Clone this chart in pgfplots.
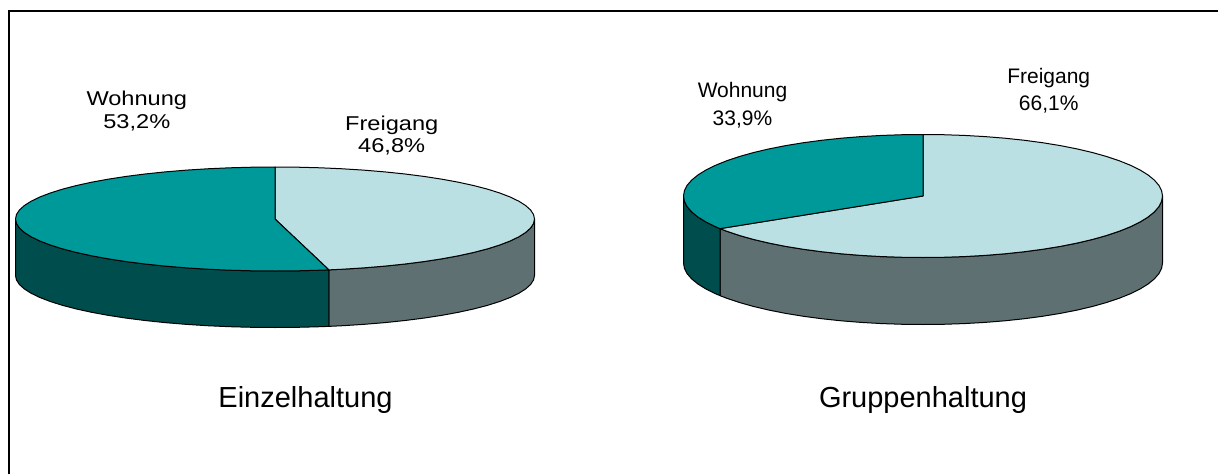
\documentclass[border=0pt]{standalone}
\usepackage{fontspec}
\setmainfont{Liberation Sans}
\usepackage{graphicx}
\usepackage{pgfplots}
\pgfplotsset{compat=1.18}
\definecolor{teal1}{HTML}{009999}
\definecolor{light1}{HTML}{BBE0E3}
\definecolor{tealside}{HTML}{004D4D}
\definecolor{greyside}{HTML}{5E7072}
\pgfkeys{
  /pgfplots/table/leftpie/.style={/pgfplots/table/x expr=275+259.5*\thisrow{s}, /pgfplots/table/y expr=219-52*\thisrow{c}+56.5*\thisrow{d}, /pgfplots/table/row sep=\\},
  /pgfplots/table/rightpie/.style={/pgfplots/table/x expr=923+239.5*\thisrow{s}, /pgfplots/table/y expr=196-61.5*\thisrow{c}+67*\thisrow{d}, /pgfplots/table/row sep=\\},
}
\pgfplotsset{
  seg/.style={draw=black, line width=1pt, line join=round, mark=none, fill=#1}
}
\begin{document}
\begin{tikzpicture}
\begin{axis}[
  scale only axis, width=1218pt, height=474pt,
  xmin=0, xmax=1218, ymin=0, ymax=474, y dir=reverse,
  axis lines=none, clip=true]

% ---- white background keeps the whole canvas in the picture
\addplot[fill=white, draw=none, mark=none] coordinates {(0,0) (1218,0) (1218,474) (0,474) (0,0)};

% ---- left pie, side faces
\addplot[seg=greyside] table[leftpie]{s c d\\
1 0 0\\ .9962 -.0872 0\\ .9848 -.1736 0\\ .9659 -.2588 0\\ .9397 -.3420 0\\ .9063 -.4226 0\\ .8660 -.5 0\\ .8192 -.5736 0\\ .7660 -.6428 0\\ .7071 -.7071 0\\ .6428 -.7660 0\\ .5736 -.8192 0\\ .5 -.8660 0\\ .4226 -.9063 0\\ .3420 -.9397 0\\ .2588 -.9659 0\\ .2077 -.9782 0\\
.2077 -.9782 1\\ .2588 -.9659 1\\ .3420 -.9397 1\\ .4226 -.9063 1\\ .5 -.8660 1\\ .5736 -.8192 1\\ .6428 -.7660 1\\ .7071 -.7071 1\\ .7660 -.6428 1\\ .8192 -.5736 1\\ .8660 -.5 1\\ .9063 -.4226 1\\ .9397 -.3420 1\\ .9659 -.2588 1\\ .9848 -.1736 1\\ .9962 -.0872 1\\ 1 0 1\\ 1 0 0\\
};
\addplot[seg=tealside] table[leftpie]{s c d\\
.2077 -.9782 0\\ .1736 -.9848 0\\ .0872 -.9962 0\\ 0 -1 0\\ -.0872 -.9962 0\\ -.1736 -.9848 0\\ -.2588 -.9659 0\\ -.3420 -.9397 0\\ -.4226 -.9063 0\\ -.5 -.8660 0\\ -.5736 -.8192 0\\ -.6428 -.7660 0\\ -.7071 -.7071 0\\ -.7660 -.6428 0\\ -.8192 -.5736 0\\ -.8660 -.5 0\\ -.9063 -.4226 0\\ -.9397 -.3420 0\\ -.9659 -.2588 0\\ -.9848 -.1736 0\\ -.9962 -.0872 0\\ -1 0 0\\
-1 0 1\\ -.9962 -.0872 1\\ -.9848 -.1736 1\\ -.9659 -.2588 1\\ -.9397 -.3420 1\\ -.9063 -.4226 1\\ -.8660 -.5 1\\ -.8192 -.5736 1\\ -.7660 -.6428 1\\ -.7071 -.7071 1\\ -.6428 -.7660 1\\ -.5736 -.8192 1\\ -.5 -.8660 1\\ -.4226 -.9063 1\\ -.3420 -.9397 1\\ -.2588 -.9659 1\\ -.1736 -.9848 1\\ -.0872 -.9962 1\\ 0 -1 1\\ .0872 -.9962 1\\ .1736 -.9848 1\\ .2077 -.9782 1\\ .2077 -.9782 0\\
};
% ---- left pie, top faces
\addplot[seg=light1] table[leftpie]{s c d\\
0 0 0\\ 0 1 0\\ .0872 .9962 0\\ .1736 .9848 0\\ .2588 .9659 0\\ .3420 .9397 0\\ .4226 .9063 0\\ .5 .8660 0\\ .5736 .8192 0\\ .6428 .7660 0\\ .7071 .7071 0\\ .7660 .6428 0\\ .8192 .5736 0\\ .8660 .5 0\\ .9063 .4226 0\\ .9397 .3420 0\\ .9659 .2588 0\\ .9848 .1736 0\\ .9962 .0872 0\\ 1 0 0\\ .9962 -.0872 0\\ .9848 -.1736 0\\ .9659 -.2588 0\\ .9397 -.3420 0\\ .9063 -.4226 0\\ .8660 -.5 0\\ .8192 -.5736 0\\ .7660 -.6428 0\\ .7071 -.7071 0\\ .6428 -.7660 0\\ .5736 -.8192 0\\ .5 -.8660 0\\ .4226 -.9063 0\\ .3420 -.9397 0\\ .2588 -.9659 0\\ .2077 -.9782 0\\ 0 0 0\\
};
\addplot[seg=teal1] table[leftpie]{s c d\\
0 0 0\\ .2077 -.9782 0\\ .1736 -.9848 0\\ .0872 -.9962 0\\ 0 -1 0\\ -.0872 -.9962 0\\ -.1736 -.9848 0\\ -.2588 -.9659 0\\ -.3420 -.9397 0\\ -.4226 -.9063 0\\ -.5 -.8660 0\\ -.5736 -.8192 0\\ -.6428 -.7660 0\\ -.7071 -.7071 0\\ -.7660 -.6428 0\\ -.8192 -.5736 0\\ -.8660 -.5 0\\ -.9063 -.4226 0\\ -.9397 -.3420 0\\ -.9659 -.2588 0\\ -.9848 -.1736 0\\ -.9962 -.0872 0\\ -1 0 0\\ -.9962 .0872 0\\ -.9848 .1736 0\\ -.9659 .2588 0\\ -.9397 .3420 0\\ -.9063 .4226 0\\ -.8660 .5 0\\ -.8192 .5736 0\\ -.7660 .6428 0\\ -.7071 .7071 0\\ -.6428 .7660 0\\ -.5736 .8192 0\\ -.5 .8660 0\\ -.4226 .9063 0\\ -.3420 .9397 0\\ -.2588 .9659 0\\ -.1736 .9848 0\\ -.0872 .9962 0\\ 0 1 0\\ 0 0 0\\
};

% ---- right pie, side faces
\addplot[seg=greyside] table[rightpie]{s c d\\
1 0 0\\ .9962 -.0872 0\\ .9848 -.1736 0\\ .9659 -.2588 0\\ .9397 -.3420 0\\ .9063 -.4226 0\\ .8660 -.5 0\\ .8192 -.5736 0\\ .7660 -.6428 0\\ .7071 -.7071 0\\ .6428 -.7660 0\\ .5736 -.8192 0\\ .5 -.8660 0\\ .4226 -.9063 0\\ .3420 -.9397 0\\ .2588 -.9659 0\\ .1736 -.9848 0\\ .0872 -.9962 0\\ 0 -1 0\\ -.0872 -.9962 0\\ -.1736 -.9848 0\\ -.2588 -.9659 0\\ -.3420 -.9397 0\\ -.4226 -.9063 0\\ -.5 -.8660 0\\ -.5736 -.8192 0\\ -.6428 -.7660 0\\ -.7071 -.7071 0\\ -.7660 -.6428 0\\ -.8192 -.5736 0\\ -.8476 -.5306 0\\
-.8476 -.5306 1\\ -.8192 -.5736 1\\ -.7660 -.6428 1\\ -.7071 -.7071 1\\ -.6428 -.7660 1\\ -.5736 -.8192 1\\ -.5 -.8660 1\\ -.4226 -.9063 1\\ -.3420 -.9397 1\\ -.2588 -.9659 1\\ -.1736 -.9848 1\\ -.0872 -.9962 1\\ 0 -1 1\\ .0872 -.9962 1\\ .1736 -.9848 1\\ .2588 -.9659 1\\ .3420 -.9397 1\\ .4226 -.9063 1\\ .5 -.8660 1\\ .5736 -.8192 1\\ .6428 -.7660 1\\ .7071 -.7071 1\\ .7660 -.6428 1\\ .8192 -.5736 1\\ .8660 -.5 1\\ .9063 -.4226 1\\ .9397 -.3420 1\\ .9659 -.2588 1\\ .9848 -.1736 1\\ .9962 -.0872 1\\ 1 0 1\\ 1 0 0\\
};
\addplot[seg=tealside] table[rightpie]{s c d\\
-.8476 -.5306 0\\ -.8660 -.5 0\\ -.9063 -.4226 0\\ -.9397 -.3420 0\\ -.9659 -.2588 0\\ -.9848 -.1736 0\\ -.9962 -.0872 0\\ -1 0 0\\
-1 0 1\\ -.9962 -.0872 1\\ -.9848 -.1736 1\\ -.9659 -.2588 1\\ -.9397 -.3420 1\\ -.9063 -.4226 1\\ -.8660 -.5 1\\ -.8476 -.5306 1\\ -.8476 -.5306 0\\
};
% ---- right pie, top faces
\addplot[seg=light1] table[rightpie]{s c d\\
0 0 0\\ 0 1 0\\ .0872 .9962 0\\ .1736 .9848 0\\ .2588 .9659 0\\ .3420 .9397 0\\ .4226 .9063 0\\ .5 .8660 0\\ .5736 .8192 0\\ .6428 .7660 0\\ .7071 .7071 0\\ .7660 .6428 0\\ .8192 .5736 0\\ .8660 .5 0\\ .9063 .4226 0\\ .9397 .3420 0\\ .9659 .2588 0\\ .9848 .1736 0\\ .9962 .0872 0\\ 1 0 0\\ .9962 -.0872 0\\ .9848 -.1736 0\\ .9659 -.2588 0\\ .9397 -.3420 0\\ .9063 -.4226 0\\ .8660 -.5 0\\ .8192 -.5736 0\\ .7660 -.6428 0\\ .7071 -.7071 0\\ .6428 -.7660 0\\ .5736 -.8192 0\\ .5 -.8660 0\\ .4226 -.9063 0\\ .3420 -.9397 0\\ .2588 -.9659 0\\ .1736 -.9848 0\\ .0872 -.9962 0\\ 0 -1 0\\ -.0872 -.9962 0\\ -.1736 -.9848 0\\ -.2588 -.9659 0\\ -.3420 -.9397 0\\ -.4226 -.9063 0\\ -.5 -.8660 0\\ -.5736 -.8192 0\\ -.6428 -.7660 0\\ -.7071 -.7071 0\\ -.7660 -.6428 0\\ -.8192 -.5736 0\\ -.8476 -.5306 0\\ 0 0 0\\
};
\addplot[seg=teal1] table[rightpie]{s c d\\
0 0 0\\ -.8476 -.5306 0\\ -.8660 -.5 0\\ -.9063 -.4226 0\\ -.9397 -.3420 0\\ -.9659 -.2588 0\\ -.9848 -.1736 0\\ -.9962 -.0872 0\\ -1 0 0\\ -.9962 .0872 0\\ -.9848 .1736 0\\ -.9659 .2588 0\\ -.9397 .3420 0\\ -.9063 .4226 0\\ -.8660 .5 0\\ -.8192 .5736 0\\ -.7660 .6428 0\\ -.7071 .7071 0\\ -.6428 .7660 0\\ -.5736 .8192 0\\ -.5 .8660 0\\ -.4226 .9063 0\\ -.3420 .9397 0\\ -.2588 .9659 0\\ -.1736 .9848 0\\ -.0872 .9962 0\\ 0 1 0\\ 0 0 0\\
};

% ---- frame (top and left only)
\addplot[black, line width=2pt, mark=none] coordinates {(9.3,474) (9.3,11.3) (1218,11.3)};

% ---- labels
\node[anchor=base, inner sep=0pt] at (axis cs:136.8,105) {\scalebox{1.18}[1]{\fontsize{20}{24}\selectfont Wohnung}};
\node[anchor=base, inner sep=0pt] at (axis cs:136.8,128.5) {\scalebox{1.18}[1]{\fontsize{20}{24}\selectfont 53,2\%}};
\node[anchor=base, inner sep=0pt] at (axis cs:391.7,130.5) {\scalebox{1.18}[1]{\fontsize{20}{24}\selectfont Freigang}};
\node[anchor=base, inner sep=0pt] at (axis cs:391.7,152) {\scalebox{1.18}[1]{\fontsize{20}{24}\selectfont 46,8\%}};
\node[anchor=base, inner sep=0pt] at (axis cs:742.5,97.5) {\fontsize{21}{25}\selectfont Wohnung};
\node[anchor=base, inner sep=0pt] at (axis cs:742.5,125) {\fontsize{21}{25}\selectfont 33,9\%};
\node[anchor=base, inner sep=0pt] at (axis cs:1048.7,83) {\fontsize{21}{25}\selectfont Freigang};
\node[anchor=base, inner sep=0pt] at (axis cs:1048.7,110.5) {\fontsize{21}{25}\selectfont 66,1\%};
\node[anchor=base, inner sep=0pt] at (axis cs:305.5,407) {\fontsize{29}{34}\selectfont Einzelhaltung};
\node[anchor=base, inner sep=0pt] at (axis cs:923,407) {\fontsize{29}{34}\selectfont Gruppenhaltung};
\end{axis}
\end{tikzpicture}
\end{document}
